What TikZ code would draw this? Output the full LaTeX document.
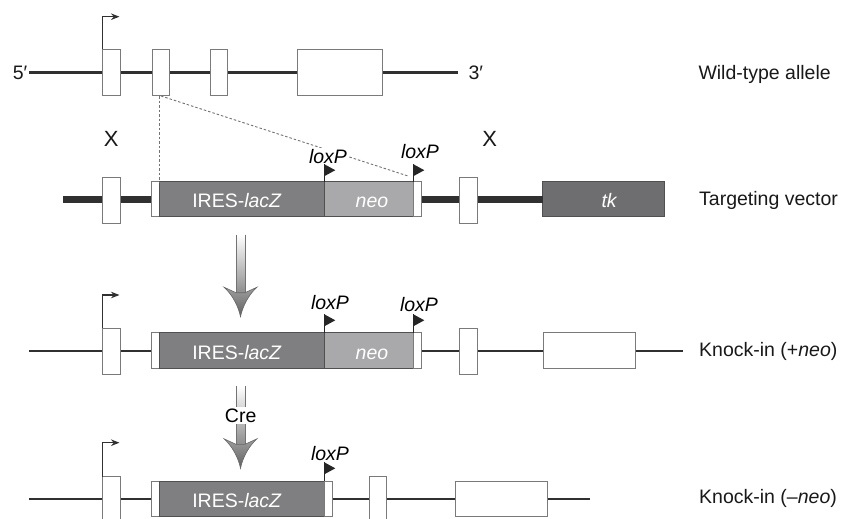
\documentclass[tikz,border=0pt]{standalone}
\usepackage{fontspec}
\setmainfont{Liberation Sans}
\usetikzlibrary{arrows.meta}
\definecolor{boxline}{HTML}{7A7A7A}
\definecolor{darkline}{HTML}{303030}
\definecolor{lacZc}{HTML}{7F7F81}
\definecolor{neoc}{HTML}{A9A9AB}
\definecolor{tkc}{HTML}{6E6E70}
\definecolor{gboxline}{HTML}{505050}
\begin{document}
\begin{tikzpicture}[x=1pt,y=-1pt,
  lbl/.style={font=\fontsize{19.5}{23}\selectfont, inner sep=0pt, text=black!90},
  exon/.style={draw=boxline, line width=1pt, fill=white, inner sep=0pt, outer sep=0pt, rectangle},
  gene/.style={draw=gboxline, line width=1pt, inner sep=0pt, outer sep=0pt, rectangle},
  intext/.style={font=\fontsize{19.5}{23}\selectfont, text=white, inner sep=0pt, anchor=base},
  loxlbl/.style={font=\fontsize{19.5}{23}\selectfont\itshape, inner sep=1pt, fill=white, anchor=base},
  thin/.style={draw=darkline, line width=2.8pt},
  thick/.style={draw=darkline, line width=7pt},
  dashline/.style={draw=black!55, line width=0.9pt, dash pattern=on 2.5pt off 2pt},
  prom/.style={draw=darkline, line width=1.4pt, -{Stealth[length=8.5pt,width=6.5pt]}},
  flagline/.style={draw=black!85, line width=1.3pt},
  gradarrow/.pic={
    \shade[top color=white, bottom color=black!45] (-4.5,-82) rectangle (4.5,-23);
    \draw[black!55, line width=0.8pt] (-4.5,-82) -- (-4.5,-23) (4.5,-82) -- (4.5,-23);
    \shade[top color=black!38, bottom color=black!62, draw=black!60, line width=0.6pt]
      (-4.5,-24) -- (-16.5,-29.5) .. controls (-8,-22) and (-2,-10) .. (0,0)
      .. controls (2,-10) and (8,-22) .. (16.5,-29.5) -- (4.5,-24) -- cycle;
  }]
\useasboundingbox (0,0) rectangle (841,519);
\fill[white] (0,0) rectangle (841,519);

% ---------- backbone lines ----------
\coordinate (w1s) at (29.3,72.3);
\coordinate (w1e) at (458.3,72.3);
\coordinate (t2s) at (63,199.5);
\coordinate (k3s) at (29,351);
\coordinate (k3e) at (683,351);
\coordinate (k4s) at (29,499);
\coordinate (k4e) at (590,499);
\draw[thin] (w1s) -- (w1e);
\draw[thin] (k3s) -- (k3e);
\draw[thin] (k4s) -- (k4e);

% ---------- row 1: wild-type ----------
\node[exon, minimum width=17.3, minimum height=46.7] (e11) at (111.35,72.65) {};
\node[exon, minimum width=17.4, minimum height=46.7] (e12) at (161,72.65) {};
\node[exon, minimum width=17.7, minimum height=46.7] (e13) at (218.85,72.65) {};
\node[exon, minimum width=84.7, minimum height=46.7] (e14) at (339.65,72.65) {};
\draw[prom] (e11.north west) -- ++(0,-32.6) -- ++(16.8,0);
\node[lbl, anchor=base east] (p5) at (27.5,80) {5′};
\node[lbl, anchor=base west] (p3) at (468.3,80) {3′};
\node[lbl, anchor=base west] (lab1) at (698.3,80) {Wild-type allele};

% ---------- row 2: targeting vector ----------
\node[gene, fill=tkc, minimum width=121.6, minimum height=35] (tk) at (603.5,199.2) {};
\draw[thick] (t2s) -- (t2s -| tk.west);
\node[exon, minimum width=17.3, minimum height=46] (e21) at (111.35,200) {};
\node[exon, minimum width=7.6, minimum height=35] (s21) at (155.5,199.2) {};
\node[gene, fill=lacZc, minimum width=165, minimum height=35] (lacZ2) at (241.8,199.2) {};
\node[gene, fill=neoc, minimum width=89, minimum height=35] (neo2) at (368.8,199.2) {};
\node[exon, minimum width=7.7, minimum height=35] (s22) at (417.15,199.2) {};
\node[exon, minimum width=17.7, minimum height=46] (e22) at (468.15,200) {};

% dashed mapping lines
\coordinate (dend) at (408,176);
\draw[dashline] (e12.south -| lacZ2.north west) -- (lacZ2.north west);
\draw[dashline] (e12.south) -- (dend);

\node[intext] (t2a) at (237,207.7) {IRES-\textit{lacZ}};
\node[intext] (t2b) at (372,207.7) {\textit{neo}};
\node[intext] (t2c) at (609.5,207.5) {\textit{tk}};
\draw[flagline] (lacZ2.north east) -- ++(0,-17.5) coordinate (f21);
\fill[black!85] (f21) -- ++(11,6) -- ++(-11,6) -- cycle;
\draw[flagline] (neo2.north east) -- ++(0,-17.5) coordinate (f22);
\fill[black!85] (f22) -- ++(11,6) -- ++(-11,6) -- cycle;
\node[loxlbl] (lx21) at (328,163.3) {loxP};
\node[loxlbl] (lx22) at (420,158.3) {loxP};
\node[lbl, font=\fontsize{22}{26}\selectfont, anchor=base] (x1) at (111.3,146.7) {X};
\node[lbl, font=\fontsize{22}{26}\selectfont, anchor=base] (x2) at (489.7,146.7) {X};
\node[lbl, anchor=base west] (lab2) at (699,205) {Targeting vector};

% ---------- arrow 1 ----------
\pic at (240.5,316.7) {gradarrow};

% ---------- row 3: knock-in +neo ----------
\node[exon, minimum width=17.3, minimum height=45.7] (e31) at (111.35,351.15) {};
\node[exon, minimum width=7.6, minimum height=35.6] (s31) at (155.5,350.5) {};
\node[gene, fill=lacZc, minimum width=165, minimum height=35.6] (lacZ3) at (241.8,350.5) {};
\node[gene, fill=neoc, minimum width=89, minimum height=35.6] (neo3) at (368.8,350.5) {};
\node[exon, minimum width=7.7, minimum height=35.6] (s32) at (417.15,350.5) {};
\node[exon, minimum width=17.7, minimum height=45.7] (e32) at (468.15,351.15) {};
\node[exon, minimum width=92.4, minimum height=35.6] (e33) at (589.5,350.5) {};
\draw[prom] (e31.north west) -- ++(0,-33.3) -- ++(16.8,0);
\node[intext] (t3a) at (237,359.3) {IRES-\textit{lacZ}};
\node[intext] (t3b) at (372,359.3) {\textit{neo}};
\draw[flagline] (lacZ3.north east) -- ++(0,-18.4) coordinate (f31);
\fill[black!85] (f31) -- ++(11,6) -- ++(-11,6) -- cycle;
\draw[flagline] (neo3.north east) -- ++(0,-18.4) coordinate (f32);
\fill[black!85] (f32) -- ++(11,6) -- ++(-11,6) -- cycle;
\node[loxlbl] (lx31) at (330,309) {loxP};
\node[loxlbl] (lx32) at (419,311) {loxP};
\node[lbl, anchor=base west] (lab3) at (699,356) {Knock-in (+\textit{neo})};

% ---------- arrow 2 ----------
\pic at (240.5,468.3) {gradarrow};
\node[font=\fontsize{19.5}{23}\selectfont, fill=white, inner sep=1.5pt, anchor=base] (cre) at (240.7,422.3) {Cre};

% ---------- row 4: knock-in -neo ----------
\node[exon, minimum width=17.3, minimum height=45.7] (e41) at (111.35,499.55) {};
\node[exon, minimum width=7.6, minimum height=35.7] (s41) at (155.5,498.85) {};
\node[gene, fill=lacZc, minimum width=165, minimum height=35.7] (lacZ4) at (241.8,498.85) {};
\node[exon, minimum width=8, minimum height=35.7] (s42) at (328.3,498.85) {};
\node[exon, minimum width=17.4, minimum height=45.7] (e42) at (378,499.55) {};
\node[exon, minimum width=92.7, minimum height=35.7] (e43) at (501.35,498.85) {};
\draw[prom] (e41.north west) -- ++(0,-34) -- ++(16.8,0);
\node[intext] (t4a) at (237,507.6) {IRES-\textit{lacZ}};
\draw[flagline] (lacZ4.north east) -- ++(0,-18.7) coordinate (f41);
\fill[black!85] (f41) -- ++(11,6) -- ++(-11,6) -- cycle;
\node[loxlbl] (lx41) at (330,460.7) {loxP};
\node[lbl, anchor=base west] (lab4) at (699,503) {Knock-in (–\textit{neo})};
\end{tikzpicture}
\end{document}
